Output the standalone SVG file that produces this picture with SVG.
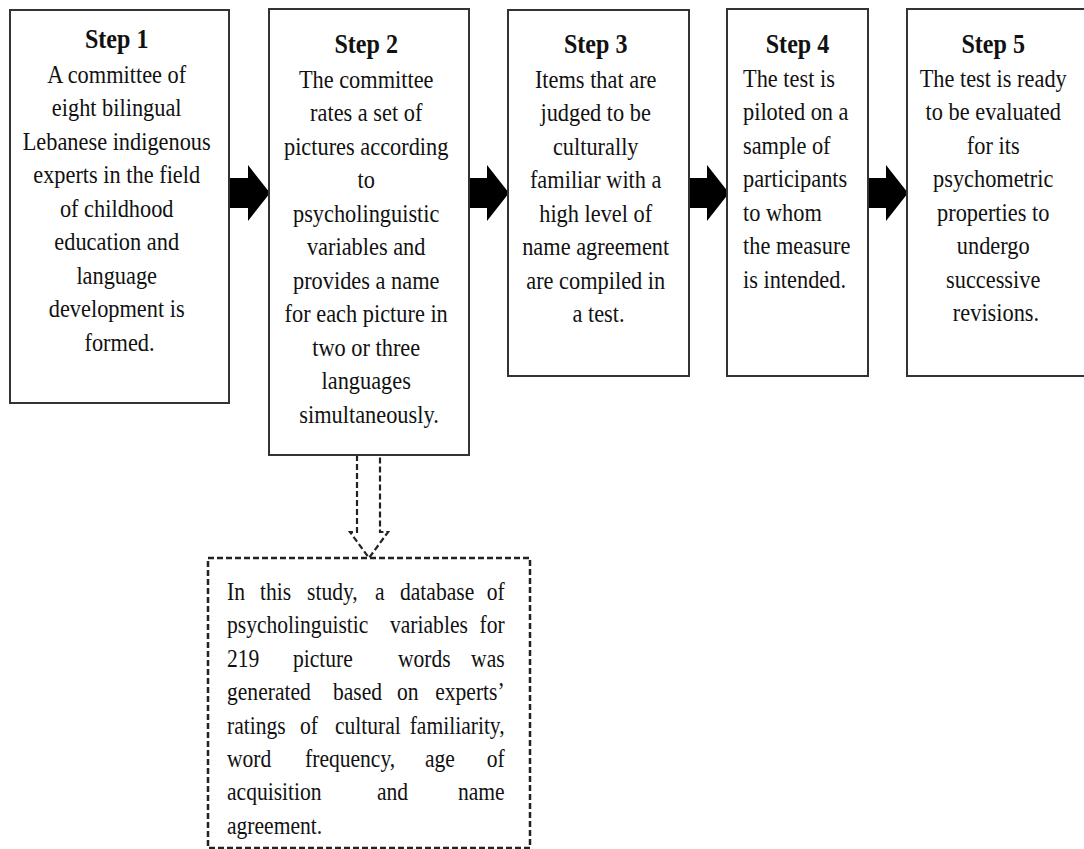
<svg xmlns="http://www.w3.org/2000/svg" width="1084" height="849" viewBox="0 0 1084 849">
<style>
.box{fill:#fff;stroke:#333;stroke-width:2}
.dbox{fill:#fff;stroke:#222;stroke-width:2.5;stroke-dasharray:6 3}
.arr{fill:#000;stroke:none}
.darr{fill:none;stroke:#222;stroke-width:2.2;stroke-dasharray:6 3}
text{font-family:"Liberation Serif","Times New Roman",serif;font-size:26px;fill:#111}
.t{font-weight:bold;font-size:28px}
.e{text-anchor:end}
</style>
<rect width="1084" height="849" fill="#fff"/>
<g id="connectors">
<path class="arr" d="M230 178H248V165L270 193L248 221V208H230Z"/>
<path class="arr" d="M469 178H487V165L509 193L487 221V208H469Z"/>
<path class="arr" d="M689 178H707V165L729 193L707 221V208H689Z"/>
<path class="arr" d="M868 178H886V165L908 193L886 221V208H868Z"/>
<path class="darr" d="M357 455V532H350L369 558L388 532H380V455"/>
</g>
<g id="step1">
<rect class="box" x="10" y="10" width="219" height="393"/>
<text transform="translate(119.5 0) scale(0.86 1)" text-anchor="middle">
<tspan class="t" x="0" y="48">Step 1</tspan>
<tspan x="0" y="83">A committee of</tspan>
<tspan x="0" y="116.5">eight bilingual</tspan>
<tspan x="0" y="150">Lebanese indigenous</tspan>
<tspan x="0" y="183.5">experts in the field</tspan>
<tspan x="0" y="217">of childhood</tspan>
<tspan x="0" y="250.5">education and</tspan>
<tspan x="0" y="284">language</tspan>
<tspan x="0" y="317.5">development is</tspan>
<tspan x="0" y="351">formed.</tspan>
</text>
</g>
<g id="step2">
<rect class="box" x="269" y="9" width="200" height="446"/>
<text transform="translate(369 0) scale(0.86 1)" text-anchor="middle">
<tspan class="t" x="0" y="53">Step 2</tspan>
<tspan x="0" y="88">The committee</tspan>
<tspan x="0" y="121.5">rates a set of</tspan>
<tspan x="0" y="155">pictures according</tspan>
<tspan x="0" y="188.5">to</tspan>
<tspan x="0" y="222">psycholinguistic</tspan>
<tspan x="0" y="255.5">variables and</tspan>
<tspan x="0" y="289">provides a name</tspan>
<tspan x="0" y="322.5">for each picture in</tspan>
<tspan x="0" y="356">two or three</tspan>
<tspan x="0" y="389.5">languages</tspan>
<tspan x="0" y="423">simultaneously.</tspan>
</text>
</g>
<g id="step3">
<rect class="box" x="508" y="10" width="181" height="366"/>
<text transform="translate(598.5 0) scale(0.86 1)" text-anchor="middle">
<tspan class="t" x="0" y="53">Step 3</tspan>
<tspan x="0" y="88">Items that are</tspan>
<tspan x="0" y="121.5">judged to be</tspan>
<tspan x="0" y="155">culturally</tspan>
<tspan x="0" y="188.5">familiar with a</tspan>
<tspan x="0" y="222">high level of</tspan>
<tspan x="0" y="255.5">name agreement</tspan>
<tspan x="0" y="289">are compiled in</tspan>
<tspan x="0" y="322.5">a test.</tspan>
</text>
</g>
<g id="step4">
<rect class="box" x="727" y="9" width="141" height="367"/>
<text transform="translate(797.5 0) scale(0.86 1)" text-anchor="middle">
<tspan class="t" x="0" y="53">Step 4</tspan>
</text>
<text transform="translate(743 0) scale(0.86 1)">
<tspan x="0" y="87">The test is</tspan>
<tspan x="0" y="120.5">piloted on a</tspan>
<tspan x="0" y="154">sample of</tspan>
<tspan x="0" y="187.5">participants</tspan>
<tspan x="0" y="221">to whom</tspan>
<tspan x="0" y="254.5">the measure</tspan>
<tspan x="0" y="288">is intended.</tspan>
</text>
</g>
<g id="step5">
<rect class="box" x="907" y="9" width="200" height="367"/>
<text transform="translate(996 0) scale(0.86 1)" text-anchor="middle">
<tspan class="t" x="0" y="53">Step 5</tspan>
<tspan x="0" y="87">The test is ready</tspan>
<tspan x="0" y="120.5">to be evaluated</tspan>
<tspan x="0" y="154">for its</tspan>
<tspan x="0" y="187.5">psychometric</tspan>
<tspan x="0" y="221">properties to</tspan>
<tspan x="0" y="254.5">undergo</tspan>
<tspan x="0" y="288">successive</tspan>
<tspan x="0" y="321.5">revisions.</tspan>
</text>
</g>
<g id="note">
<rect class="dbox" x="208" y="558" width="322" height="290"/>
<text transform="scale(0.83 1)">
<tspan x="273.5" y="600">In</tspan><tspan x="313.3" y="600">this</tspan><tspan x="369.9" y="600">study,</tspan><tspan x="451.8" y="600">a</tspan><tspan x="481.9" y="600">database</tspan><tspan class="e" x="614.5" y="600">of</tspan>
<tspan x="273.5" y="633.5">psycholinguistic</tspan><tspan x="469.9" y="633.5">variables</tspan><tspan class="e" x="614.5" y="633.5">for</tspan>
<tspan x="273.5" y="667">219</tspan><tspan x="353" y="667">picture</tspan><tspan x="479.5" y="667">words</tspan><tspan class="e" x="614.5" y="667">was</tspan>
<tspan x="273.5" y="700.5">generated</tspan><tspan x="401.2" y="700.5">based</tspan><tspan x="478.3" y="700.5">on</tspan><tspan class="e" x="614.5" y="700.5">experts’</tspan>
<tspan x="273.5" y="734">ratings</tspan><tspan x="361.4" y="734">of</tspan><tspan x="403.6" y="734">cultural</tspan><tspan class="e" x="614.5" y="734">familiarity,</tspan>
<tspan x="273.5" y="767">word</tspan><tspan x="367.5" y="767">frequency,</tspan><tspan x="512" y="767">age</tspan><tspan class="e" x="614.5" y="767">of</tspan>
<tspan x="273.5" y="800.5">acquisition</tspan><tspan x="454.2" y="800.5">and</tspan><tspan class="e" x="614.5" y="800.5">name</tspan>
<tspan x="273.5" y="834">agreement.</tspan>
</text>
</g>
</svg>
